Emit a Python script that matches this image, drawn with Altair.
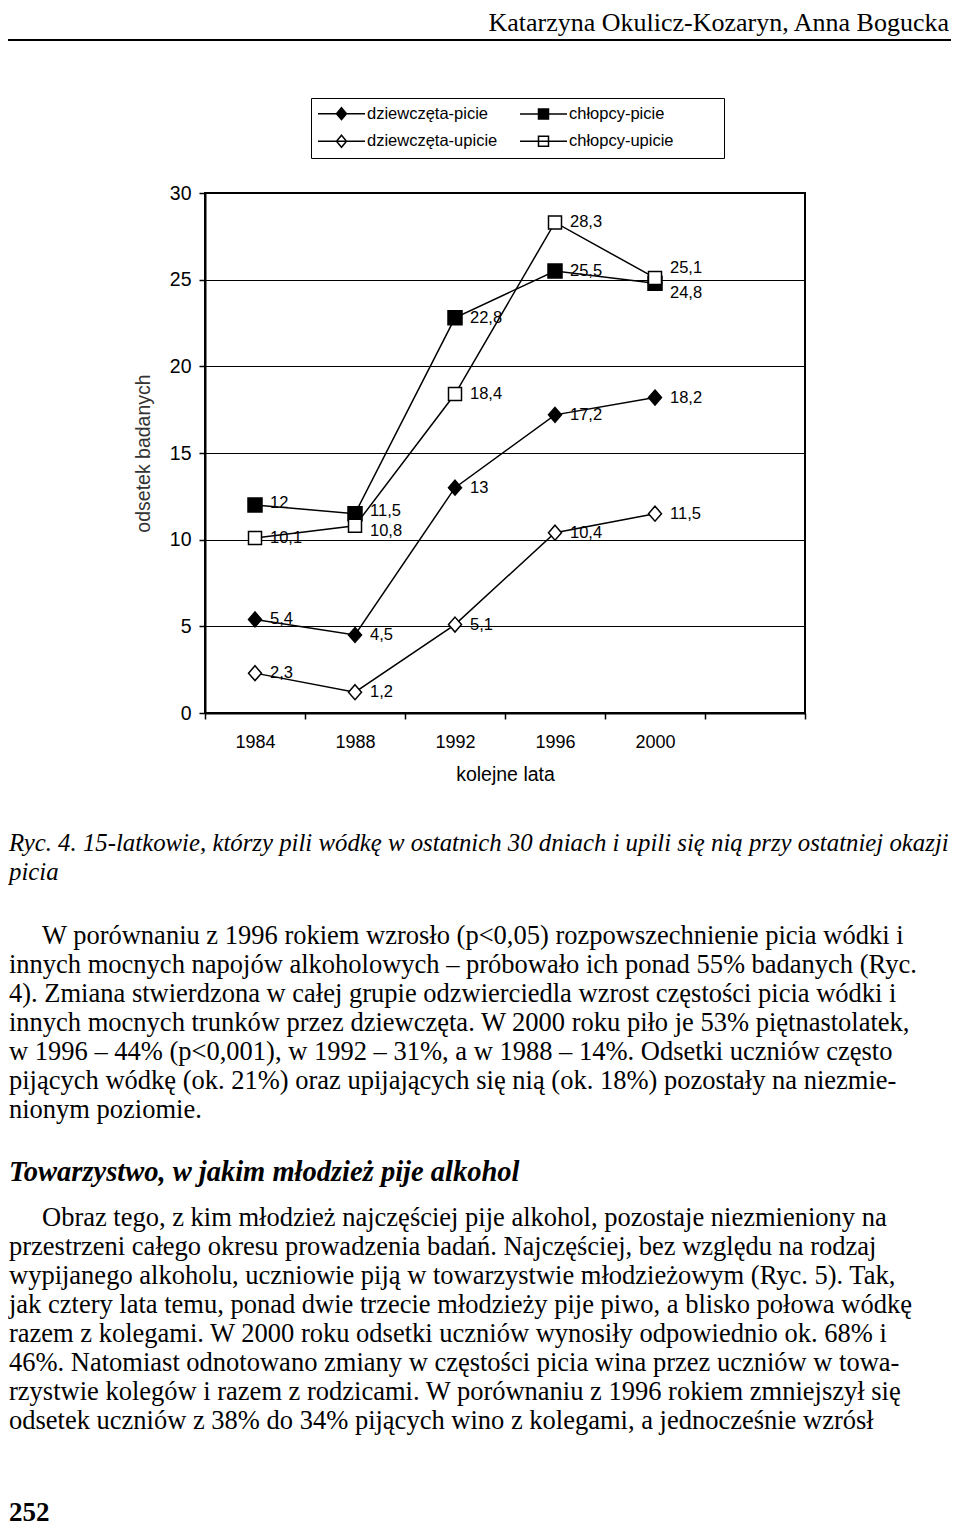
import altair as alt
import pandas as pd

# ---------------- data ----------------
years = ["1984", "1988", "1992", "1996", "2000"]
axis_years = years + ["2004"]
series_names = ["dziewczęta-picie", "chłopcy-picie", "dziewczęta-upicie", "chłopcy-upicie"]
dziewczeta_picie = [5.4, 4.5, 13.0, 17.2, 18.2]
dziewczeta_upicie = [2.3, 1.2, 5.1, 10.4, 11.5]
chlopcy_picie = [12.0, 11.5, 22.8, 25.5, 24.8]
chlopcy_upicie = [10.1, 10.8, 18.4, 28.3, 25.1]
y_ticks = [0, 5, 10, 15, 20, 25, 30]

header_text = "Katarzyna Okulicz-Kozaryn, Anna Bogucka"
caption_lines = [
    "Ryc.  4. 15-latkowie, którzy pili wódkę w ostatnich 30 dniach i upili się nią przy ostatniej okazji",
    "picia",
]
para1_first = "W porównaniu z 1996 rokiem wzrosło (p<0,05) rozpowszechnienie picia wódki i"
para1_rest = [
    "innych mocnych napojów alkoholowych – próbowało ich ponad 55% badanych (Ryc.",
    "4). Zmiana stwierdzona w całej grupie odzwierciedla wzrost częstości picia wódki i",
    "innych mocnych trunków przez dziewczęta. W 2000 roku piło je 53% piętnastolatek,",
    "w 1996 – 44% (p<0,001), w 1992 – 31%, a w 1988 – 14%. Odsetki uczniów często",
    "pijących wódkę (ok. 21%) oraz upijających się nią (ok. 18%) pozostały na niezmie-",
    "nionym poziomie.",
]
heading_text = "Towarzystwo, w jakim młodzież pije alkohol"
para2_first = "Obraz tego, z kim młodzież najczęściej pije alkohol, pozostaje niezmieniony na"
para2_rest = [
    "przestrzeni całego okresu prowadzenia badań. Najczęściej, bez względu na rodzaj",
    "wypijanego alkoholu, uczniowie piją w towarzystwie młodzieżowym (Ryc. 5). Tak,",
    "jak cztery lata temu, ponad dwie trzecie młodzieży pije piwo, a blisko połowa wódkę",
    "razem z kolegami. W 2000 roku odsetki uczniów wynosiły odpowiednio ok. 68% i",
    "46%. Natomiast odnotowano zmiany w częstości picia wina przez uczniów w towa-",
    "rzystwie kolegów i razem z rodzicami. W porównaniu z 1996 rokiem zmniejszył się",
    "odsetek uczniów z 38% do 34% pijących wino z kolegami, a jednocześnie wzrósł",
]
page_number = "252"

# ---------------- table ----------------
series_values = {
    "dziewczęta-picie": dziewczeta_picie,
    "chłopcy-picie": chlopcy_picie,
    "dziewczęta-upicie": dziewczeta_upicie,
    "chłopcy-upicie": chlopcy_upicie,
}
rows = []
for name in series_names:
    for yr, v in zip(years, series_values[name]):
        rows.append({"series": name, "year": yr, "value": v,
                     "label": f"{v:g}".replace(".", ",")})
df = pd.DataFrame(rows)
one = pd.DataFrame({"_": [0]})

SANS = "Liberation Sans"
SERIF = "Liberation Serif"

X = alt.X("year:O",
          scale=alt.Scale(type="band", domain=axis_years, paddingInner=0, paddingOuter=0),
          axis=alt.Axis(labelAngle=0, tickBand="extent",
                        labelExpr="datum.value == '2004' ? '' : datum.value",
                        tickSize=6, tickColor="black", tickWidth=1.5,
                        labelPadding=14, labelFontSize=18, labelFont=SANS, labelColor="black",
                        title="kolejne lata", titleFontSize=19.5, titleFont=SANS,
                        titleFontWeight="normal", titlePadding=14, titleColor="black",
                        grid=False, domainColor="black", domainWidth=2))
Y = alt.Y("value:Q",
          scale=alt.Scale(domain=[0, 30], nice=False),
          axis=alt.Axis(values=y_ticks, grid=True, gridColor="black", gridWidth=1,
                        tickSize=6, tickColor="black", tickWidth=1.5,
                        labelFontSize=19.5, labelFont=SANS, labelColor="black", labelPadding=8,
                        title="odsetek badanych", titleFontSize=19.5, titleFont=SANS,
                        titleFontWeight="normal", titlePadding=16, titleColor="#333333",
                        domainColor="black", domainWidth=2))

base = alt.Chart(df).encode(x=X, y=Y)

lines = base.mark_line(color="black", strokeWidth=1.5).encode(detail="series:N")

diamond = "M0,-1.15L1,0L0,1.15L-1,0Z"
marker_style = {
    "dziewczęta-picie": dict(shape=diamond, size=169, fill="black"),
    "chłopcy-picie": dict(shape="square", size=196, fill="black"),
    "dziewczęta-upicie": dict(shape=diamond, size=169, fill="white"),
    "chłopcy-upicie": dict(shape="square", size=169, fill="white"),
}
marker_layers = []
for name in series_names:
    st = marker_style[name]
    marker_layers.append(
        base.transform_filter(alt.datum.series == name).mark_point(
            shape=st["shape"], size=st["size"], fill=st["fill"], filled=True,
            stroke="black", strokeWidth=1.5, opacity=1)
    )

# legend carrier (invisible marks, visible legend)
leg_diamond = "M-4.7,0L4.7,0M0,-1.2L1,0L0,1.2L-1,0Z"
leg_square = "M-4.7,0L4.7,0M-1,-1L1,-1L1,1L-1,1Z"
legend_def = alt.Legend(
    title="mmm", titleOrient="right", titleFontSize=14, titleColor="white",
    orient="none", legendX=106, legendY=-95, columns=2, direction="horizontal",
    strokeColor="black", padding=7, rowPadding=9, columnPadding=19,
    symbolSize=100, symbolOffset=15.25, labelOffset=17.25,
    symbolOpacity=1, symbolStrokeColor="black", symbolStrokeWidth=1.5,
    labelFont=SANS, labelFontSize=16.5, labelColor="black",
)
legend_layer = base.mark_point(opacity=0, strokeWidth=1.5).encode(
    shape=alt.Shape("series:N", scale=alt.Scale(domain=series_names,
                                                range=[leg_diamond, leg_square, leg_diamond, leg_square]),
                    legend=legend_def),
    fill=alt.Fill("series:N", scale=alt.Scale(domain=series_names,
                                              range=["black", "black", "white", "white"]),
                  legend=legend_def),
    stroke=alt.Stroke("series:N", scale=alt.Scale(domain=series_names,
                                                  range=["black", "black", "black", "black"]),
                      legend=legend_def),
)

# data labels (a few are nudged up or down, as in the original)
lab_kw = dict(align="left", baseline="middle", dx=15, fontSize=16.5, font=SANS, color="black")
label_nudges = [
    ("chłopcy-upicie", "2000", -10),
    ("chłopcy-picie", "2000", 10),
    ("chłopcy-upicie", "1988", 5),
    ("chłopcy-picie", "1988", -3),
    ("chłopcy-picie", "1984", -2),
]
label_layers = []
excluded = None
for s, yr, d in label_nudges:
    cond = (alt.datum.series == s) & (alt.datum.year == yr)
    excluded = cond if excluded is None else (excluded | cond)
    label_layers.append(base.transform_filter(cond).mark_text(dy=d, **lab_kw).encode(text="label:N"))
label_layers.insert(0, base.transform_filter(~excluded).mark_text(**lab_kw).encode(text="label:N"))

# page text (positions relative to the plot origin)
def page_text(text, x, y, size=26.5, style="normal", weight="normal", align="left"):
    return alt.Chart(one).mark_text(
        align=align, baseline="alphabetic", font=SERIF, fontSize=size,
        fontStyle=style, fontWeight=weight, lineHeight=29, color="black"
    ).encode(x=alt.value(x), y=alt.value(y), text=alt.value(text))

LEFT = -196
header = page_text(header_text, 744, -162, size=26, align="right")
header_rule = alt.Chart(one).mark_rule(color="black", strokeWidth=2).encode(
    x=alt.value(-197), x2=alt.value(746), y=alt.value(-153))
caption = page_text(caption_lines, LEFT, 658, size=24.8, style="italic")
p1a = page_text(para1_first, -163, 751)
p1b = page_text(para1_rest, LEFT, 780)
head2 = page_text(heading_text, LEFT, 988, size=28.5, style="italic", weight="bold")
p2a = page_text(para2_first, -163, 1033)
p2b = page_text(para2_rest, LEFT, 1062)
pnum = page_text(page_number, LEFT, 1328, size=27, weight="bold")

chart = alt.layer(
    lines, *marker_layers, legend_layer, *label_layers,
    header, header_rule, caption, p1a, p1b, head2, p2a, p2b, pnum,
).properties(
    width=600, height=520,
    autosize=alt.AutoSizeParams(type="none"),
    padding={"left": 197, "top": 185, "right": 147, "bottom": 813},
    background="white",
).configure_view(stroke="black", strokeWidth=2)

chart.save("out.html", embed_options={"renderer": "svg", "actions": False})
